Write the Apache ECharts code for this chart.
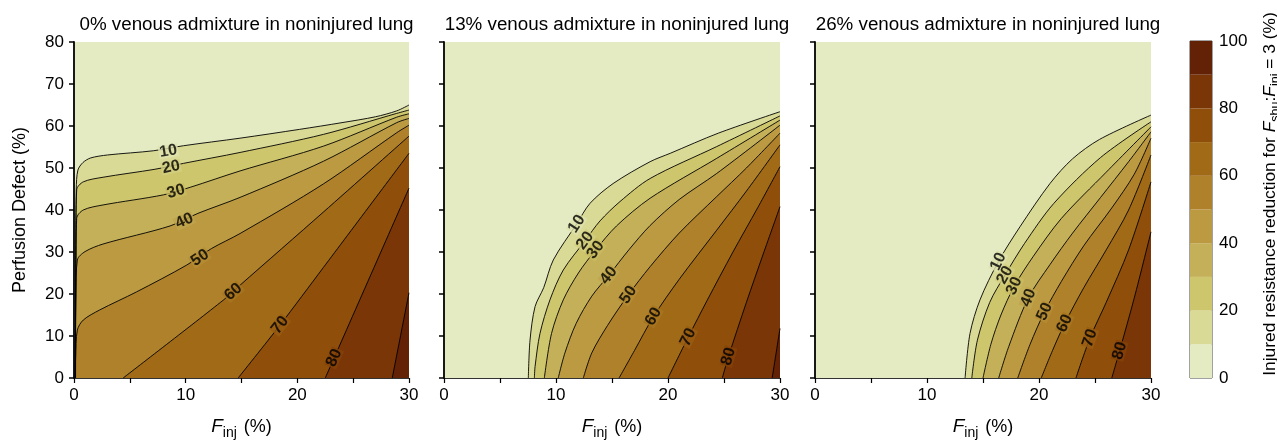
<!DOCTYPE html>
<html>
<head>
<meta charset="utf-8">
<script src="https://cdn.jsdelivr.net/npm/echarts@6/dist/echarts.min.js"></script>
<style>
  html, body { margin: 0; padding: 0; background: #fff; }
  #chart { width: 1277px; height: 441px; }
</style>
</head>
<body>
<div id="chart"></div>
<script>
// contour levels and the filled band colours (0-10, 10-20, ... 90-100)
var levels = [10, 20, 30, 40, 50, 60, 70, 80, 90];
var bandEdges = [0, 10, 20, 30, 40, 50, 60, 70, 80, 90, 100];
var bandColors = ['#e4ebc3', '#d9da96', '#cec66d', '#c4b058', '#bb9a42',
                  '#b0812b', '#a16a17', '#8f4f0b', '#7a3607', '#632205'];

var titles = ['0% venous admixture in noninjured lung',
              '13% venous admixture in noninjured lung',
              '26% venous admixture in noninjured lung'];

// contour lines [F_inj %, perfusion defect %], one list per level
var lines0 = [
  [[0.14,0],[0.16,30],[0.2,45],[0.35,49.5],[0.8,51.3],[1.5,52.4],[3,53.1],[7.1,54.1],[9.8,55.3],[14.87,57.1],[20.2,59.2],[24,60.8],[27,62.2],[28.9,63.6],[30,65]],
  [[0.12,0],[0.16,30],[0.24,44.8],[0.83,46.7],[2.6,47.8],[7.25,49.7],[9.8,51.1],[14.87,53.7],[22.33,58.0],[28.9,63.0],[30,63.8]],
  [[0.11,0],[0.17,25],[0.24,38.0],[0.83,40.0],[2.6,41.2],[8.0,43.6],[10.4,45.4],[14.87,49.3],[22.33,55.2],[28.9,62.1],[30,62.9]],
  [[0.1,0],[0.17,20],[0.3,28.1],[0.99,30.1],[2.6,31.9],[8.6,36.2],[11.1,39.2],[14.87,43.0],[22.33,51.6],[28.9,60.8],[30,61.8]],
  [[0.1,0],[0.15,5],[0.3,11.4],[0.83,13.8],[2.3,16.2],[5.6,20.5],[10.1,26.9],[12.3,30.8],[14.87,34.4],[22.33,46.2],[28.9,58.4],[30,60.2]],
  [[4.4,0],[13.4,18.6],[14.87,22.1],[22.33,39.5],[30,57.6]],
  [[14.7,0],[18.45,12.6],[22.33,26.3],[30,53.5]],
  [[22.5,0],[23.3,4.8],[30,45.2]],
  [[28.5,0],[30,20.3]]
];
var lines13 = [
  [[7.53,0],[7.68,9],[8.13,17],[8.9,21.5],[9.76,28.1],[11.85,36.7],[13.04,41.6],[15.1,46.3],[18.4,51.5],[20.2,53.5],[24.5,58.3],[30,63.4]],
  [[8.07,0],[8.13,2.7],[8.57,10.6],[9.46,18.6],[10.65,25.7],[12.6,32.7],[13.93,37.4],[15.71,42.0],[18.4,47.5],[24.35,55.1],[30,62.4]],
  [[8.96,0],[9.6,10.6],[10.65,18.6],[12.0,25.0],[13.54,30.5],[15.4,36.2],[18.4,42.8],[24.35,52.3],[30,61.4]],
  [[10.2,0],[10.8,6],[11.8,13],[13.2,19.5],[14.7,24.4],[16.5,30.5],[18.4,36.3],[21,42.5],[24.35,48.7],[30,60.2]],
  [[12.44,0],[13.2,6],[14.6,12.5],[16.46,19.8],[18.4,26.5],[21,34.5],[24.35,43.2],[27,50],[30,58.3]],
  [[15.63,0],[17,6.5],[18.7,14.6],[21,23.5],[24.35,35.2],[27,44.5],[30,55.5]],
  [[20.0,0],[21.8,9.7],[23.5,18.5],[25.8,30],[28,40.5],[30,50.3]],
  [[24.85,0],[25.4,5.1],[27,18],[28.5,29.5],[30,40.8]],
  [[29.3,0],[30,11.8]]
];
var lines26 = [
  [[13.4,0],[13.84,10.6],[14.73,18.6],[16.37,27.7],[18.3,36.0],[20.98,46.3],[23,52.2],[25.4,56.8],[30,62.6]],
  [[14.0,0],[14.5,9],[15.6,18],[16.96,24.5],[18.7,32],[21.3,41.5],[25.5,52.5],[30,61.0]],
  [[15.0,0],[15.7,8],[16.6,15],[17.8,21.9],[19.5,29],[22,38],[26,49],[30,59.8]],
  [[16.4,0],[17.3,7.5],[19.05,19.1],[20.98,27],[23,34.5],[25.5,43],[28,51.5],[30,58.6]],
  [[18.1,0],[19.2,8],[20.5,15.8],[22,23],[24,31.5],[26.5,40.5],[28.5,48.5],[30,57.1]],
  [[20.2,0],[21.2,6.5],[22.3,13],[24,21.5],[26,30.5],[28,40],[30,53.1]],
  [[23.3,0],[24.55,9.5],[26,18],[28,30.5],[30,46.7]],
  [[26.5,0],[27.2,6.5],[28.5,19],[30,34.8]]
];

// where each contour carries its value label
var labels0 = [[8.45,54.0],[8.69,50.2],[9.13,44.4],[9.88,37.4],[11.28,28.6],[14.27,20.5],[18.45,12.6],[23.3,4.8]];
var labels13 = [[11.85,36.7],[12.6,32.7],[13.54,30.5],[14.7,24.4],[16.46,19.8],[18.7,14.6],[21.8,9.7],[25.4,5.1]];
var labels26 = [[16.37,27.7],[16.96,24.5],[17.8,21.9],[19.05,19.1],[20.5,15.8],[22.3,13],[24.55,9.5],[27.2,6.5]];

var chart = echarts.init(document.getElementById('chart'));
var font = 'Liberation Sans';
var panels = [lines0, lines13, lines26];
var panelLabels = [labels0, labels13, labels26];

function mix(c1, c2) {
  var a = parseInt(c1.slice(1), 16), b = parseInt(c2.slice(1), 16);
  var r = ((a >> 16) + (b >> 16)) >> 1,
      g = (((a >> 8) & 255) + ((b >> 8) & 255)) >> 1,
      bl = ((a & 255) + (b & 255)) >> 1;
  return 'rgb(' + r + ',' + g + ',' + bl + ')';
}

var grids = [
  { left: 74, top: 42, width: 335, height: 336 },
  { left: 444, top: 42, width: 336, height: 336 },
  { left: 815, top: 42, width: 336, height: 336 },
  { left: 1190, top: 41, width: 22, height: 337 }
];
grids.forEach(function (g, i) {
  g.show = true;
  g.outerBoundsMode = 'none';
  g.containLabel = false;
  g.borderWidth = i === 3 ? 1 : 0;
  g.borderColor = '#444';
  g.backgroundColor = i === 3 ? 'transparent' : bandColors[0];
});

var smoothing = 0.3;
var xAxes = [], yAxes = [], series = [];
for (var p = 0; p < 3; p++) {
  xAxes.push({
    gridIndex: p, type: 'value', min: 0, max: 30, interval: 5,
    axisLine: { lineStyle: { color: '#333', width: 1.2 } },
    axisTick: { length: 5, lineStyle: { color: '#000', width: 1.2 } },
    axisLabel: {
      color: '#000', fontSize: 17, fontFamily: font, margin: 9,
      formatter: function (v) { return v % 10 === 0 ? String(v) : ''; }
    },
    splitLine: { show: false },
    name: '{f|F}{s|inj} (%)', nameLocation: 'middle', nameGap: 36,
    nameTextStyle: {
      color: '#000', fontSize: 18, fontFamily: font,
      rich: {
        f: { fontSize: 19, fontStyle: 'italic', fontFamily: font, color: '#000' },
        s: { fontSize: 14, fontFamily: font, color: '#000', padding: [12, 2, 0, 0] }
      }
    }
  });
  yAxes.push({
    gridIndex: p, type: 'value', min: 0, max: 80, interval: 10,
    axisLine: { show: true, lineStyle: { color: '#000', width: 1.8 } },
    axisTick: { show: true, length: 5, lineStyle: { color: '#000', width: 1.5 } },
    axisLabel: { show: p === 0, color: '#000', fontSize: 17, fontFamily: font, margin: 10 },
    splitLine: { show: false },
    name: p === 0 ? 'Perfusion Defect (%)' : '', nameLocation: 'middle', nameGap: 45,
    nameTextStyle: { color: '#000', fontSize: 18, fontFamily: font }
  });

  var lines = panels[p];
  // filled bands: each level paints the region below/right of its contour
  lines.forEach(function (pts, i) {
    series.push({
      type: 'line', xAxisIndex: p, yAxisIndex: p, data: pts,
      symbol: 'none', silent: true, z: 2, smooth: smoothing,
      lineStyle: { width: 0 },
      areaStyle: { color: bandColors[i + 1], opacity: 1 }
    });
  });
  lines.forEach(function (pts) {
    series.push({
      type: 'line', xAxisIndex: p, yAxisIndex: p, data: pts,
      symbol: 'none', silent: true, z: 3, smooth: smoothing,
      lineStyle: { color: '#000', width: 0.9 }
    });
  });
  panelLabels[p].forEach(function (pt, i) {
    series.push({
      type: 'scatter', xAxisIndex: p, yAxisIndex: p, data: [pt],
      symbolSize: 0, silent: true, z: 4, labelIdx: [p, i],
      label: {
        show: true, position: 'inside', formatter: String(levels[i]),
        color: '#000', fontSize: 16, fontWeight: 'bold', fontFamily: font, rotate: 0,
        backgroundColor: mix(bandColors[i], bandColors[i + 1]),
        padding: [0, 1], lineHeight: 13
      }
    });
  });
}

// colour bar
xAxes.push({ gridIndex: 3, type: 'category', data: [''], show: false });
yAxes.push({
  gridIndex: 3, type: 'value', min: 0, max: 100, interval: 20, position: 'right',
  axisLine: { show: false }, axisTick: { show: false }, splitLine: { show: false },
  axisLabel: { color: '#000', fontSize: 17, fontFamily: font, margin: 7 }
});
for (var b = 0; b < bandColors.length; b++) {
  series.push({
    type: 'bar', xAxisIndex: 3, yAxisIndex: 3, stack: 'cb', silent: true,
    barWidth: '100%', data: [bandEdges[b + 1] - bandEdges[b]],
    itemStyle: { color: bandColors[b] }
  });
}

var option = {
  animation: false,
  backgroundColor: '#fff',
  title: titles.map(function (t, i) {
    var g = grids[i];
    return {
      text: t, left: g.left + g.width / 2, top: 10, textAlign: 'center',
      textStyle: { color: '#000', fontSize: 18.8, fontWeight: 'normal', fontFamily: font }
    };
  }),
  grid: grids,
  xAxis: xAxes,
  yAxis: yAxes,
  series: series,
  graphic: [{
    type: 'text', x: 1270, y: 194, rotation: Math.PI / 2,
    style: {
      text: 'Injured resistance reduction for {i|F}{s|shu}:{i|F}{s|inj} = 3 (%)',
      fill: '#000', font: '17.4px "Liberation Sans"',
      align: 'center', verticalAlign: 'middle',
      rich: {
        i: { fontSize: 17.4, fontStyle: 'italic', fontFamily: font, fill: '#000' },
        s: { fontSize: 12.5, fontFamily: font, fill: '#000', padding: [12, 0, 0, 0] }
      }
    }
  }]
};
chart.setOption(option);

// turn each contour label along its line, measured in screen space
series.forEach(function (s) {
  if (!s.labelIdx) return;
  var p = s.labelIdx[0], i = s.labelIdx[1];
  var pts = panels[p][i], lx = s.data[0][0];
  var k = 0;
  while (k < pts.length - 2 && pts[k + 1][0] < lx) k++;
  var a = chart.convertToPixel({ gridIndex: p }, pts[k]);
  var c = chart.convertToPixel({ gridIndex: p }, pts[k + 1]);
  s.label.rotate = Math.atan2(a[1] - c[1], c[0] - a[0]) * 180 / Math.PI;
});
chart.setOption({ series: series });
</script>
</body>
</html>
